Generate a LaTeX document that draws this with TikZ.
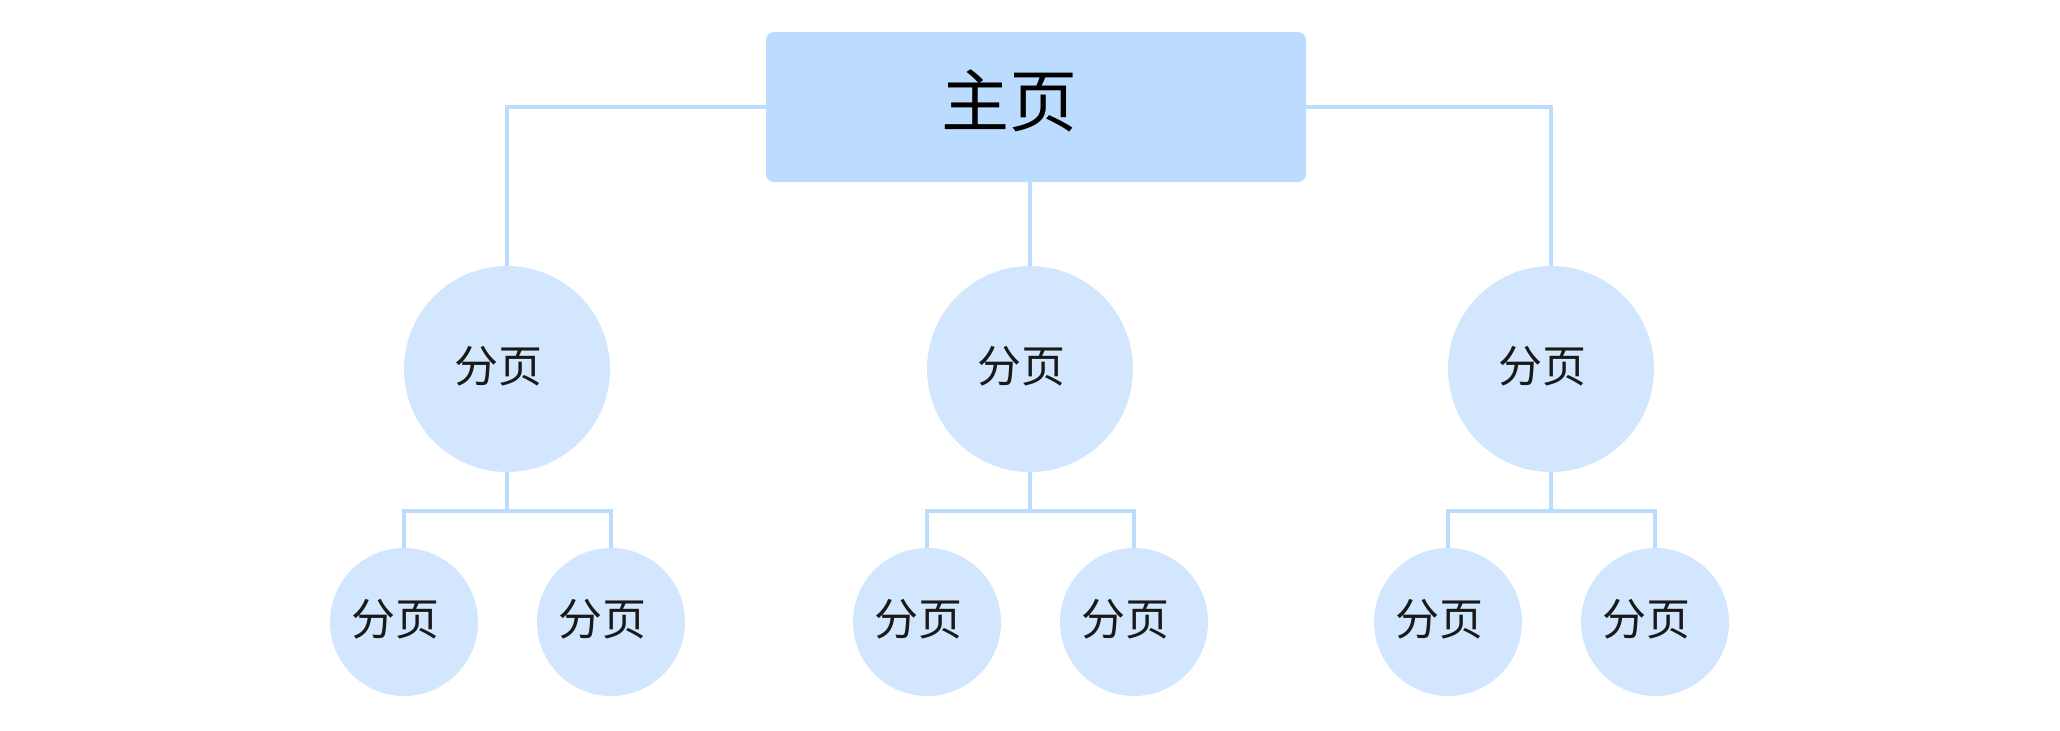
\documentclass[tikz,border=0pt]{standalone}
\usepackage{fontspec}
\newfontfamily\cjk{Noto Sans CJK SC}
\definecolor{boxblue}{HTML}{BBDCFE}
\definecolor{pageblue}{HTML}{D2E7FE}
\definecolor{wireblue}{HTML}{BBDCFD}
\tikzstyle{home}=[fill=boxblue,rounded corners=4pt,minimum width=270pt,minimum height=75pt,inner sep=0pt]
\tikzstyle{hometext}=[text=black,font=\cjk\fontsize{34}{34}\selectfont,xshift=-13.5pt,yshift=3pt]
\tikzstyle{page}=[circle,fill=pageblue,inner sep=0pt]
\tikzstyle{pagetext}=[text=black!90,font=\cjk\fontsize{22}{22}\selectfont,xshift=-4.5pt,yshift=1.5pt]
\tikzstyle{big}=[minimum size=103pt]
\tikzstyle{small}=[minimum size=74pt]
\tikzstyle{wire}=[wireblue,line width=1.6pt]

\begin{document}
\begin{tikzpicture}[x=0.5pt,y=-0.5pt]
    \useasboundingbox (0,0) rectangle (2060,730);
    \node[home,label={[hometext]center:主页}] (home) at (1036,107) {};
    \foreach \x/\n in {507/1, 1030/2, 1551/3} {
        \node[page,big,label={[pagetext]center:分页}] (p\n) at (\x,369) {};
        \node[page,small,label={[pagetext]center:分页}] (sl\n) at (\x-103,622) {};
        \node[page,small,label={[pagetext]center:分页}] (sr\n) at (\x+104,622) {};
        \draw[wire] (p\n.south) -- (p\n.south |- 0,511);
        \draw[wire] (sl\n.north) |- (p\n.south |- 0,511) -| (sr\n.north);
    }
    \draw[wire] (home.west) -| (p1.north);
    \draw[wire] (p2.north) -- (p2.north |- home.south);
    \draw[wire] (home.east) -| (p3.north);
\end{tikzpicture}
\end{document}
